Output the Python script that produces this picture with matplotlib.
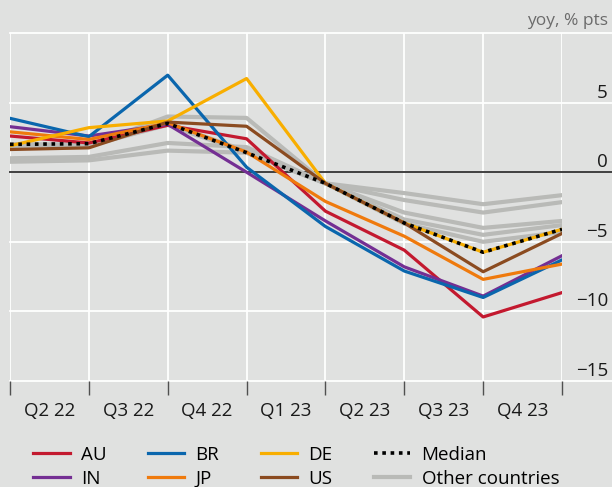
import numpy as np
import matplotlib
matplotlib.use("Agg")
import matplotlib.pyplot as plt
from matplotlib import transforms

plt.rcParams['font.family'] = ['Open Sans', 'DejaVu Sans']

# quarters: data at the end of each quarter (first point = start of Q2 22)
quarter_labels = ['Q2 22', 'Q3 22', 'Q4 22', 'Q1 23', 'Q2 23', 'Q3 23', 'Q4 23']

au = [2.6, 2.1, 3.37, 2.4, -2.8, -5.6, -10.4, -8.65]
br = [3.87, 2.55, 6.97, 0.36, -3.9, -7.1, -9.0, -6.3]
de = [1.9, 3.2, 3.68, 6.73, -0.8, -3.65, -5.75, -4.1]
in_ = [3.27, 2.6, 3.44, 0.0, -3.5, -6.8, -8.9, -6.0]
jp = [2.9, 2.35, 3.55, 1.45, -2.1, -4.6, -7.7, -6.6]
us = [1.63, 1.75, 3.6, 3.3, -0.8, -3.65, -7.15, -4.4]
median = [2.0, 2.05, 3.5, 1.4, -0.8, -3.65, -5.75, -4.1]

others = [
    [2.0, 1.9, 4.0, 3.9, -0.8, -1.5, -2.3, -1.65],
    [1.0, 1.1, 2.1, 1.8, -0.8, -2.0, -2.9, -2.15],
    [0.75, 0.85, 1.55, 1.4, -0.8, -2.9, -4.0, -3.5],
    [2.0, 2.0, 3.5, 1.5, -0.8, -3.4, -4.5, -3.8],
    [1.8, 1.9, 3.4, 1.4, -0.8, -3.7, -5.0, -4.3],
]

y_ticks = [-15, -10, -5, 0, 5]
y_ticklabels = ['\u221215', '\u221210', '\u22125', '0', '5']

bg = '#e0e1e0'
x = np.arange(len(au))

fig = plt.figure(figsize=(6.12, 4.87), dpi=100, facecolor=bg)
ax = fig.add_axes([10/612, 1-381/487, 552/612, 348/487], facecolor=bg)
ax.set_xlim(0, 7)
ax.set_ylim(-15, 10)
for s in ax.spines.values():
    s.set_visible(False)

# grid: horizontal lines run on to the figure edge
for yv in [-15, -10, -5, 5, 10]:
    ax.plot([0, 1.09], [yv, yv], color='white', lw=1.3, transform=ax.get_yaxis_transform(),
            clip_on=False, zorder=0)
for xv in x:
    ax.axvline(xv, color='white', lw=1.3, zorder=0)
ax.plot([0, 1.09], [0, 0], color='#404040', lw=1.4, transform=ax.get_yaxis_transform(),
        clip_on=False, zorder=1)

grey = '#b9bab7'
grey_lines = []
for o in others:
    grey_lines += ax.plot(x, o, color=grey, lw=3.0, zorder=2)

series = [
    ('AU', au, '#c3192f'),
    ('IN', in_, '#742f93'),
    ('BR', br, '#0a66ad'),
    ('JP', jp, '#ef7a0d'),
    ('DE', de, '#f8ae00'),
    ('US', us, '#8b4b20'),
]
handles = []
for name, vals, col in series:
    handles += ax.plot(x, vals, color=col, lw=2.3, zorder=3)
med, = ax.plot(x, median, color='black', lw=2.6, ls=(0, (1.0, 1.3)), zorder=4)
handles += [med, grey_lines[0]]
labels = [s[0] for s in series] + ['Median', 'Other countries']

# ticks
ax.set_xticks(x)
ax.set_xticklabels([])
ax.set_xticks(x[:-1] + 0.5, minor=True)
ax.set_xticklabels(quarter_labels, minor=True, fontsize=13.5, color='#1a1a1a')
ax.tick_params(axis='x', which='major', length=10, width=1, color='#505050', direction='out')
ax.tick_params(axis='x', which='minor', length=0, pad=15)

ax.yaxis.tick_right()
ax.set_yticks(y_ticks)
ax.set_yticklabels(y_ticklabels, fontsize=13.5, color='#1a1a1a')
ax.tick_params(axis='y', length=0, pad=33)
off = transforms.ScaledTranslation(0, 12/100, fig.dpi_scale_trans)
for lab in ax.get_yticklabels():
    lab.set_horizontalalignment('right')
    lab.set_transform(lab.get_transform() + off)

fig.text(608/612, 1-21/487, 'yoy, % pts', ha='right', va='center', fontsize=12.5, color='#6b6b6b')

fig.legend(handles, labels, ncol=4, loc='upper left', bbox_to_anchor=(33/612, 1-446/487),
           frameon=False, fontsize=13.5, handlelength=1.95, handletextpad=0.6,
           columnspacing=2.2, labelspacing=0.3, borderaxespad=0, borderpad=0)

fig.savefig('out.png', dpi=100, facecolor=bg)
